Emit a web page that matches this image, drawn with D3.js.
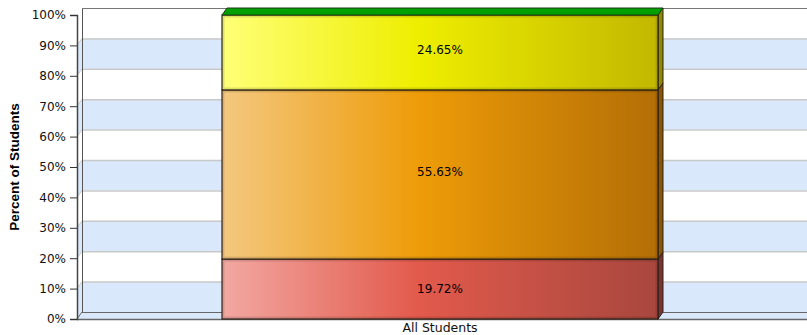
<!DOCTYPE html>
<html>
<head>
<meta charset="utf-8">
<script src="https://cdn.jsdelivr.net/npm/d3@7"></script>
<style>
  body { margin: 0; background: #fff; }
  svg { display: block; font-family: "DejaVu Sans", Verdana, sans-serif; }
</style>
</head>
<body>
<svg id="chart"></svg>
<script>
// chart data
const categories = ["All Students"];
const seriesNames = ["Level 1", "Level 2", "Level 3"];
const seriesValues = [19.72, 55.63, 24.65];
const seriesLabels = ["19.72%", "55.63%", "24.65%"];
const yTicks = [0, 10, 20, 30, 40, 50, 60, 70, 80, 90, 100];

// gradient colours for each series: left, middle, right, side face
const seriesColors = [
    ["#f2a8a2", "#e25a4c", "#a8473e", "#7a3430"],
    ["#f4c880", "#ee9c08", "#b36e06", "#8a5606"],
    ["#ffff78", "#eeee00", "#c2b800", "#8f8a00"]
];

const width = 807,
    height = 335;
const depthX = 5,
    depthY = -7;
const svg = d3.select("#chart").attr("width", width).attr("height", height);

const yScale = d3.scaleLinear().domain([0, 100]).range([319, 15]);
const xScale = d3
    .scaleBand()
    .domain(categories)
    .range([77, 803])
    .paddingInner(0)
    .paddingOuter(0.3326);

const plotLeft = 77,
    plotRight = 812;

// back wall bands
const bands = d3.range(0, 100, 10);
svg.append("g")
    .selectAll("rect")
    .data(bands)
    .enter()
    .append("rect")
    .attr("x", plotLeft + depthX)
    .attr("y", (d) => yScale(d + 10) + depthY)
    .attr("width", plotRight - plotLeft)
    .attr("height", (d) => yScale(d) - yScale(d + 10))
    .attr("fill", (d) => ((d / 10) % 2 === 0 ? "#dae8fc" : "#ffffff"));

// left side wall bands
svg.append("g")
    .selectAll("path")
    .data(bands)
    .enter()
    .append("path")
    .attr("d", (d) => {
        const y0 = yScale(d),
            y1 = yScale(d + 10);
        return `M${plotLeft},${y0}L${plotLeft + depthX},${y0 + depthY}L${plotLeft + depthX},${y1 + depthY}L${plotLeft},${y1}Z`;
    })
    .attr("fill", (d) => ((d / 10) % 2 === 0 ? "#dae8fc" : "#ffffff"));

// grid lines on back wall and side wall
const grid = svg.append("g").attr("stroke", "#c8c8c8").attr("fill", "none");
grid.selectAll("line.back")
    .data(yTicks.slice(1, -1))
    .enter()
    .append("line")
    .attr("x1", plotLeft + depthX)
    .attr("x2", plotRight)
    .attr("y1", (d) => yScale(d) + depthY + 0.5)
    .attr("y2", (d) => yScale(d) + depthY + 0.5)
    .attr("stroke-width", 1.5);
grid.selectAll("line.side")
    .data(yTicks.slice(1, -1))
    .enter()
    .append("line")
    .attr("x1", plotLeft)
    .attr("x2", plotLeft + depthX)
    .attr("y1", (d) => yScale(d))
    .attr("y2", (d) => yScale(d) + depthY);

// floor
svg.append("path")
    .attr(
        "d",
        `M${plotLeft},${yScale(0)}L${plotLeft + depthX},${yScale(0) + depthY}L${plotRight},${yScale(0) + depthY}L${plotRight},${yScale(0)}Z`
    )
    .attr("fill", "#dae8fc");

// wall outlines
const frame = svg.append("g").attr("fill", "none");
frame.append("line")
    .attr("x1", plotLeft + depthX + 0.5)
    .attr("x2", plotLeft + depthX + 0.5)
    .attr("y1", yScale(100) + depthY)
    .attr("y2", yScale(0) + depthY)
    .attr("stroke", "#555");
frame.append("line")
    .attr("x1", plotLeft + depthX)
    .attr("x2", plotRight)
    .attr("y1", yScale(100) + depthY + 0.5)
    .attr("y2", yScale(100) + depthY + 0.5)
    .attr("stroke", "#777");
frame.append("line")
    .attr("x1", plotLeft + depthX)
    .attr("x2", plotRight)
    .attr("y1", yScale(0) + depthY + 0.5)
    .attr("y2", yScale(0) + depthY + 0.5)
    .attr("stroke", "#666");
frame.append("line")
    .attr("x1", plotLeft)
    .attr("x2", plotRight)
    .attr("y1", yScale(0) + 0.5)
    .attr("y2", yScale(0) + 0.5)
    .attr("stroke", "#666")
    .attr("stroke-width", 1.5);
frame.append("line")
    .attr("x1", plotLeft)
    .attr("x2", plotLeft + depthX)
    .attr("y1", yScale(0))
    .attr("y2", yScale(0) + depthY)
    .attr("stroke", "#666");

// gradients
const defs = svg.append("defs");
seriesColors.forEach((c, i) => {
    const g = defs
        .append("linearGradient")
        .attr("id", "grad" + i)
        .attr("x1", "0%")
        .attr("x2", "100%")
        .attr("y1", "0%")
        .attr("y2", "0%");
    g.append("stop").attr("offset", "0%").attr("stop-color", c[0]);
    g.append("stop").attr("offset", "45%").attr("stop-color", c[1]);
    g.append("stop").attr("offset", "100%").attr("stop-color", c[2]);
});

// stacked bar segments
let cum = 0;
const segments = seriesValues.map((v, i) => {
    const s = { name: seriesNames[i], y0: cum, y1: cum + v, label: seriesLabels[i], i: i };
    cum += v;
    return s;
});

const bars = svg.append("g");
const bx = xScale(categories[0]),
    bw = xScale.bandwidth();

segments.forEach((s) => {
    const g = bars.append("g");
    const yTop = yScale(s.y1),
        yBot = yScale(s.y0);
    // side face
    g.append("path")
        .attr(
            "d",
            `M${bx + bw},${yBot}L${bx + bw + depthX},${yBot + depthY}L${bx + bw + depthX},${yTop + depthY}L${bx + bw},${yTop}Z`
        )
        .attr("fill", seriesColors[s.i][3])
        .attr("stroke", "#2a2018")
        .attr("stroke-width", 1);
    // front face
    g.append("rect")
        .attr("x", bx)
        .attr("y", yTop)
        .attr("width", bw)
        .attr("height", yBot - yTop)
        .attr("fill", `url(#grad${s.i})`)
        .attr("stroke", "#2a2018")
        .attr("stroke-width", 1.2);
    // bevel highlight
    g.append("rect")
        .attr("x", bx + 1.5)
        .attr("y", yTop + 1.5)
        .attr("width", bw - 3)
        .attr("height", yBot - yTop - 3)
        .attr("fill", "none")
        .attr("stroke", "rgba(0,0,0,0.12)")
        .attr("stroke-width", 2);
    g.append("text")
        .attr("x", bx + bw / 2)
        .attr("y", (yTop + yBot) / 2 + (s.i === 0 ? 4 : 2))
        .attr("text-anchor", "middle")
        .attr("font-size", 12)
        .attr("fill", "#000")
        .text(s.label);
});

// top face
const topY = yScale(100);
bars.append("path")
    .attr(
        "d",
        `M${bx},${topY}L${bx + depthX},${topY + depthY}L${bx + bw + depthX},${topY + depthY}L${bx + bw},${topY}Z`
    )
    .attr("fill", "#00a000")
    .attr("stroke", "#1a3a10")
    .attr("stroke-width", 1);

// y axis
const yAxis = d3
    .axisLeft(yScale)
    .tickValues(yTicks)
    .tickFormat((d) => d + "%")
    .tickSize(7)
    .tickPadding(4);
const yAxisG = svg
    .append("g")
    .attr("transform", `translate(${plotLeft},0)`)
    .call(yAxis);
yAxisG.select(".domain").attr("stroke", "#444").attr("stroke-width", 1.5);
yAxisG.selectAll(".tick line").attr("stroke", "#333");
yAxisG
    .selectAll(".tick text")
    .attr("font-size", 12)
    .attr("font-family", "DejaVu Sans, Verdana, sans-serif")
    .attr("fill", "#111");

// x axis
const xAxis = d3.axisBottom(xScale).tickSize(0).tickPadding(4);
const xAxisG = svg
    .append("g")
    .attr("transform", `translate(0,${yScale(0)})`)
    .call(xAxis);
xAxisG.select(".domain").remove();
xAxisG
    .selectAll(".tick text")
    .attr("font-size", 12.5)
    .attr("font-family", "DejaVu Sans, Verdana, sans-serif")
    .attr("fill", "#111");

// y axis title
svg.append("text")
    .attr("transform", `translate(19,${(yScale(0) + yScale(100)) / 2}) rotate(-90)`)
    .attr("text-anchor", "middle")
    .attr("font-size", 13.5)
    .attr("font-weight", "bold")
    .attr("font-family", "Liberation Sans, Arial, sans-serif")
    .text("Percent of Students");
</script>
</body>
</html>
